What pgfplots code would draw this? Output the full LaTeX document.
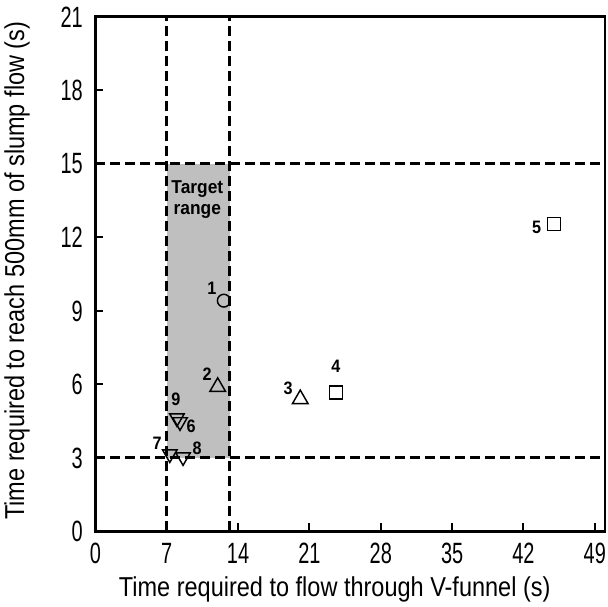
\documentclass[border=0pt]{standalone}
\usepackage{pgfplots}
\pgfplotsset{compat=1.18}
\usepackage{fontspec}
\setmainfont{Liberation Sans}
\begin{document}
\begin{tikzpicture}
\begin{axis}[
  scale only axis,
  width=382.2pt, height=385.9pt,
  xmin=0, xmax=50, ymin=0, ymax=21,
  xtick={0,7,...,49}, ytick={0,3,...,21},
  xtick pos=left, ytick pos=left,
  tick align=inside,
  major tick length=6pt,
  every tick/.style={black, line width=1.5pt},
  axis line style={line width=2.2pt},
  /pgf/number format/assume math mode=true,
  xticklabel={\scalebox{0.68}[1]{\pgfmathprintnumber{\tick}}},
  yticklabel={\scalebox{0.68}[1]{\pgfmathprintnumber{\tick}}},
  ticklabel style={font=\fontsize{22}{26}\selectfont, inner sep=0pt},
  xticklabel style={anchor=north, yshift=-8.6pt},
  yticklabel style={anchor=east, xshift=-9.3pt},
  every axis x label/.style={at={([xshift=-11.6pt,yshift=-49pt]axis description cs:0.5,0)}, anchor=base},
  every axis y label/.style={at={([xshift=-53.5pt,yshift=2.6pt]axis description cs:0,0.5)}, rotate=90, anchor=base},
  label style={font=\fontsize{20.5}{24}\selectfont, inner sep=0pt},
  xlabel={\scalebox{0.86}[1]{Time required to flow through V-funnel (s)}},
  ylabel={\scalebox{0.86}[1]{Time required to reach 500mm of slump flow (s)}},
  clip=false,
]
\coordinate (bl) at (rel axis cs:0,0);
\addplot[fill=black!25, draw=none] coordinates {(7,3) (13.2,3) (13.2,15) (7,15)} -- cycle;
\addplot[black, line width=2.2pt, dash pattern=on 7.5pt off 3.75pt] coordinates {(7,0) (7,21)};
\addplot[black, line width=2.2pt, dash pattern=on 7.5pt off 3.75pt] coordinates {(13.2,0) (13.2,21)};
\addplot[black, line width=2.2pt, dash pattern=on 7.5pt off 3.75pt] coordinates {(0,3) (50,3)};
\addplot[black, line width=2.2pt, dash pattern=on 7.5pt off 3.75pt] coordinates {(0,15) (50,15)};
% 1: circle
\addplot[only marks, mark=o, mark size=4.8pt, black, line width=1.1pt] coordinates {(12.6,9.42)};
% 2,3: triangles
\addplot[only marks, mark=triangle, mark size=6.8pt, black, line width=1.1pt] coordinates {(12.0,5.9) (20.1,5.4)};
% 4,5: squares
\addplot[only marks, mark=square, mark size=5pt, black, line width=1.1pt] coordinates {(23.6,5.67) (45.0,12.55)};
% 6,7,8,9: down triangles
\addplot[only marks, mark=triangle, mark size=6.3pt, black, line width=1.1pt, mark options={rotate=180}] coordinates {(8.3,4.47) (7.3,3.16) (8.6,3.04) (8.0,4.63)};
\begin{scope}[font=\fontsize{13.5}{16}\selectfont\bfseries]
\node at (axis cs:11.44,9.94) {\scalebox{0.9}[1]{1}};
\node at (axis cs:10.97,6.4) {\scalebox{0.9}[1]{2}};
\node at (axis cs:18.9,5.86) {\scalebox{0.9}[1]{3}};
\node at (axis cs:23.6,6.76) {\scalebox{0.9}[1]{4}};
\node at (axis cs:43.3,12.43) {\scalebox{0.9}[1]{5}};
\node at (axis cs:9.4,4.3) {\scalebox{0.9}[1]{6}};
\node at (axis cs:6.05,3.6) {\scalebox{0.9}[1]{7}};
\node at (axis cs:9.97,3.4) {\scalebox{0.9}[1]{8}};
\node at (axis cs:7.9,5.4) {\scalebox{0.9}[1]{9}};
\end{scope}
\node[font=\fontsize{14}{17}\selectfont\bfseries, align=center] at (axis cs:10.0,13.55) {\scalebox{0.93}[1]{Target}\\[-1pt]\scalebox{0.93}[1]{range}};
\end{axis}
\pgfresetboundingbox
\path[use as bounding box] ([shift={(-71.55pt,-56.6pt)}]bl) rectangle ([shift={(384.45pt,398.6pt)}]bl);
\end{tikzpicture}
\end{document}
